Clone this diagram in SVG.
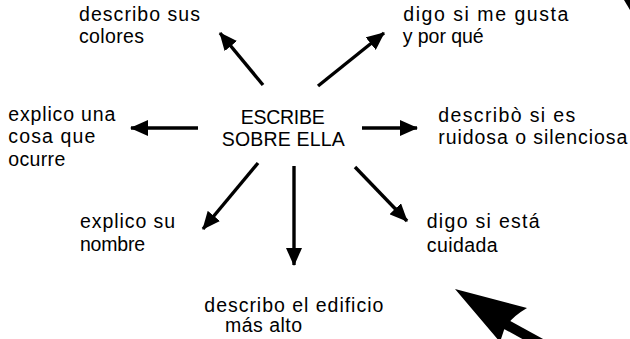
<svg xmlns="http://www.w3.org/2000/svg" width="630" height="339" viewBox="0 0 630 339">
<style>
text{font-family:"Liberation Sans",Arial,Helvetica,sans-serif;font-size:19.5px;fill:#000}
.c{stroke:#000;stroke-width:3.4;fill:none;marker-end:url(#ah)}
</style>
<defs>
<marker id="ah" markerUnits="userSpaceOnUse" markerWidth="19" markerHeight="16" refX="17" refY="8" orient="auto">
<path d="M0,0 L18,8 L0,16 Z" fill="#000"/>
</marker>
</defs>
<rect width="630" height="339" fill="#fff"/>
<g id="center">
<text x="240.7" y="124" textLength="84" lengthAdjust="spacing">ESCRIBE</text>
<text x="221.7" y="146" textLength="123" lengthAdjust="spacing">SOBRE ELLA</text>
</g>
<g id="n-colores">
<text x="79" y="20.7" textLength="121" lengthAdjust="spacing">describo sus</text>
<text x="79" y="43.3" textLength="65" lengthAdjust="spacing">colores</text>
</g>
<g id="n-gusta">
<text x="403.3" y="20.7" textLength="165" lengthAdjust="spacing">digo si me gusta</text>
<text x="402.7" y="43.3" textLength="81" lengthAdjust="spacing">y por qué</text>
</g>
<g id="n-ocurre">
<text x="8.3" y="120.7" textLength="107" lengthAdjust="spacing">explico una</text>
<text x="8.3" y="143.3" textLength="87" lengthAdjust="spacing">cosa que</text>
<text x="8.3" y="165.5" textLength="57" lengthAdjust="spacing">ocurre</text>
</g>
<g id="n-ruidosa">
<text x="438.3" y="121.7" textLength="137" lengthAdjust="spacing">describò si es</text>
<text x="438.3" y="144" textLength="189" lengthAdjust="spacing">ruidosa o silenciosa</text>
</g>
<g id="n-nombre">
<text x="80" y="228" textLength="95" lengthAdjust="spacing">explico su</text>
<text x="80" y="250.5" textLength="65" lengthAdjust="spacing">nombre</text>
</g>
<g id="n-cuidada">
<text x="426.7" y="228" textLength="113" lengthAdjust="spacing">digo si está</text>
<text x="426.7" y="251.7" textLength="71" lengthAdjust="spacing">cuidada</text>
</g>
<g id="n-edificio">
<text x="204.3" y="311.7" textLength="179" lengthAdjust="spacing">describo el edificio</text>
<text x="225" y="332" textLength="77" lengthAdjust="spacing">más alto</text>
</g>
<g id="connectors">
<line class="c" x1="263" y1="85" x2="220" y2="33"/>
<line class="c" x1="318" y1="86" x2="384" y2="33"/>
<line class="c" x1="198" y1="128" x2="131" y2="128"/>
<line class="c" x1="362" y1="128" x2="417" y2="128"/>
<line class="c" x1="258" y1="163" x2="203" y2="229"/>
<line class="c" x1="294" y1="166" x2="294" y2="265"/>
<line class="c" x1="355" y1="167" x2="407" y2="221"/>
</g>
<g id="big-arrow">
<line x1="500" y1="321" x2="560" y2="354" stroke="#000" stroke-width="10"/>
<path d="M455,289 L527,308 Q510,318 504,330 L500,342 Z" fill="#000"/>
</g>
<path d="M624,0 L630,0 L630,10 Z" fill="#000"/>
</svg>
